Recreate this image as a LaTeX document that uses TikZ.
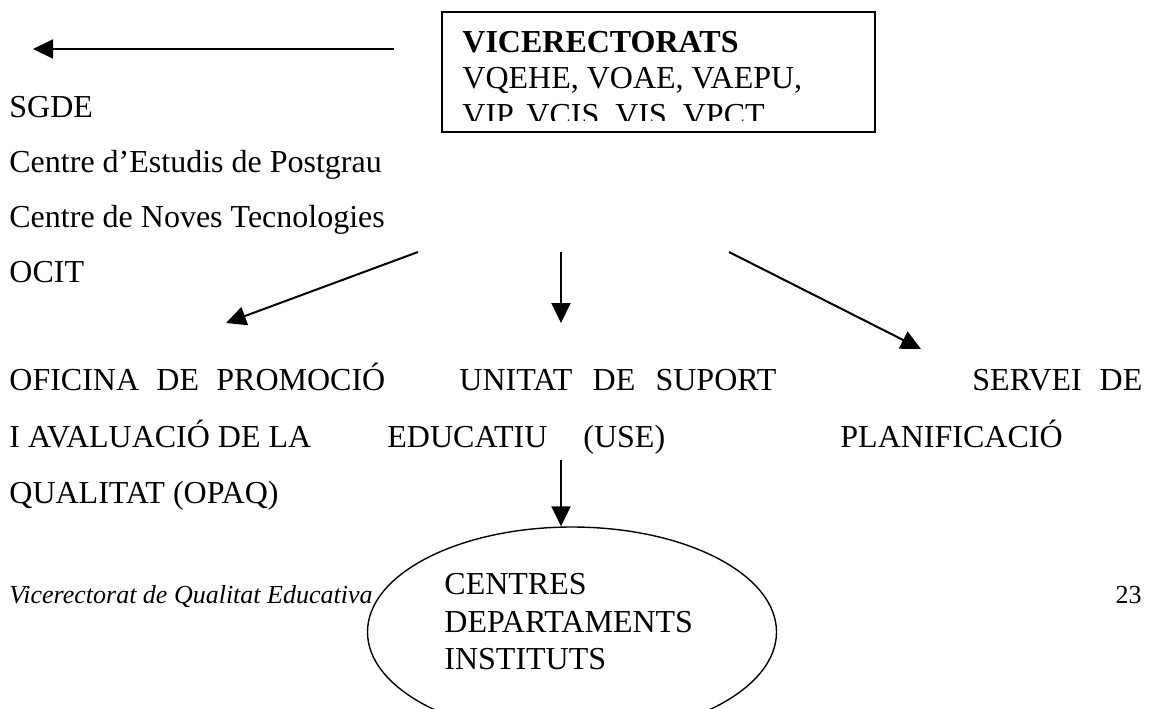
\documentclass[tikz,border=0pt]{standalone}
\usepackage{fontspec}
\setmainfont{Liberation Serif}
\usetikzlibrary{arrows.meta,shapes.geometric}
\begin{document}
\begin{tikzpicture}[x=0.5pt,y=-0.5pt,
  txt/.style={anchor=base west,inner sep=0pt,font=\fontsize{16pt}{19pt}\selectfont},
  foot/.style={anchor=base west,inner sep=0pt,font=\fontsize{13pt}{16pt}\selectfont},
  arr/.style={line width=1pt,-{Triangle[length=10pt,width=9.5pt]}},
  vbox/.style={draw,line width=1pt,anchor=north west,inner sep=0pt,minimum width=216.5pt,minimum height=60pt},
  ellnode/.style={draw,ellipse,fill=white,line width=0.7pt,inner sep=0pt,minimum width=204.5pt,minimum height=105pt}
]
\useasboundingbox (0,0) rectangle (1150,708);
\clip (0,0) rectangle (1150,708);

% box of vicerectorats
\node[vbox] (box) at (441,11) {};
\begin{scope}
  \clip (443,13) rectangle (872,120);
  \node[txt,font=\fontsize{16pt}{19pt}\selectfont\bfseries] (v1) at (462,52) {VICERECTORATS};
  \node[txt] (v2) at (462,88.5) {VQEHE, VOAE, VAEPU,};
  \node[txt] (v3) at (462,125) {VIP, VCIS, VIS, VPCT};
\end{scope}

% left list
\node[txt] (sgde) at (9,117) {SGDE};
\node[txt] (cep) at (9,172) {Centre d’Estudis de Postgrau};
\node[txt] (cnt) at (9,227) {Centre de Noves Tecnologies};
\node[txt] (ocit) at (9,282) {OCIT};

% rows
\node[txt] (o1) at (9,390) {\makebox[188pt][s]{OFICINA DE PROMOCIÓ}};
\node[txt] (o2) at (9,447) {I AVALUACIÓ DE LA};
\node[txt] (o3) at (9,503) {QUALITAT (OPAQ)};
\node[txt] (u1) at (459,390) {\makebox[158.5pt][s]{UNITAT DE SUPORT}};
\node[txt] (u2) at (387,447) {EDUCATIU};
\node[txt] (u3) at (583,447) {(USE)};
\node[txt] (s1) at (972,390) {\makebox[85pt][s]{SERVEI DE}};
\node[txt] (s2) at (840,447) {PLANIFICACIÓ};

% footer
\node[foot,font=\fontsize{13pt}{16pt}\selectfont\itshape] (ft) at (9,603) {Vicerectorat de Qualitat Educativa};
\node[foot,anchor=base east] (pg) at (1142,603) {23};

% ellipse
\node[ellnode] (ell) at (572,632) {};
\node[txt] (e1) at (444,594) {CENTRES};
\node[txt] (e2) at (444,632) {DEPARTAMENTS};
\node[txt] (e3) at (444,669) {INSTITUTS};

% arrows
\coordinate (t0) at (394,49);
\coordinate (t1) at (33,49);
\draw[arr] (t0) -- (t1);
\coordinate (l0) at (418,252);
\coordinate (l1) at (226,323);
\draw[arr] (l0) -- (l1);
\coordinate (m0) at (561,252);
\coordinate (m1) at (561,323);
\draw[arr] (m0) -- (m1);
\coordinate (r0) at (729,252);
\coordinate (r1) at (921,349);
\draw[arr] (r0) -- (r1);
\coordinate (b0) at (561,460);
\draw[arr] (b0) -- (b0 |- ell.north);
\end{tikzpicture}
\end{document}
